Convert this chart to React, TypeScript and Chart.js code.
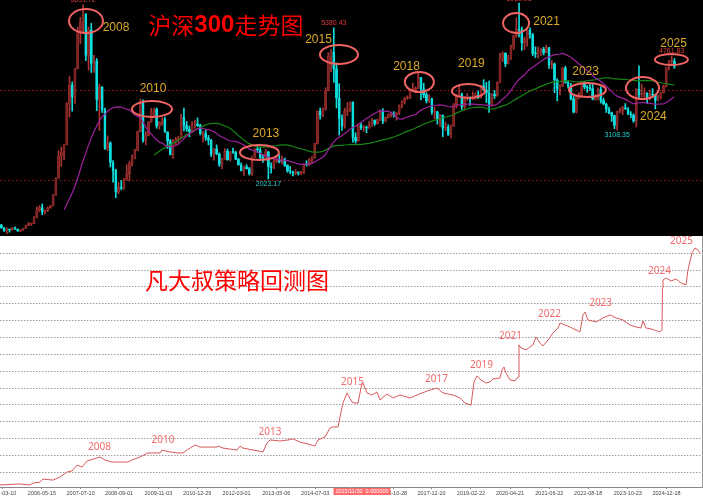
import React, { useEffect, useRef } from 'react';
import { Chart, registerables } from 'chart.js';

Chart.register(...registerables);

const W = 703;
const TOP_H = 236;
const BOTTOM_H = 264;

// ---------- Top panel: CSI 300 monthly candles, [open, high, low, close] ----------
const k2005 = [[1003,1016,925,942],[942,945,855,868],[868,935,807,899],[899,905,840,891],[891,950,885,924],[924,960,900,911],[911,915,855,867],[867,895,848,885],[885,926,880,923]];
const k2006 = [[923,1000,921,994],[994,1060,985,1020],[1020,1045,990,1032],[1032,1185,1030,1170],[1170,1400,1160,1343],[1343,1432,1290,1389],[1389,1470,1230,1298],[1298,1330,1240,1318],[1318,1400,1300,1384],[1384,1440,1370,1428],[1428,1680,1425,1672],[1672,2050,1660,2041]];
const k2007 = [[2041,2650,2040,2534],[2534,2730,2300,2613],[2613,2800,2450,2782],[2782,3720,2780,3710],[3710,4300,3400,4110],[4110,4180,3530,3840],[3840,4480,3700,4472],[4472,5400,4470,5290],[5290,5620,5030,5510],[5510,5891.72,5250,5688],[5688,5700,4650,4770],[4770,5400,4440,5338]];
const k2008 = [[5338,5480,4390,4590],[4590,4770,4390,4650],[4650,4700,3540,3790],[3790,4130,3100,4060],[4060,4080,3500,3560],[3560,3600,2680,2700],[2700,2980,2650,2820],[2820,2850,2290,2390],[2390,2430,1950,2210],[2210,2240,1606,1730],[1730,1950,1700,1840],[1840,1990,1780,1817]];
const k2009 = [[1817,2030,1790,2000],[2000,2340,1990,2140],[2140,2420,1980,2365],[2365,2560,2310,2485],[2485,2680,2470,2660],[2660,3090,2650,3075],[3075,3803,3070,3710],[3710,3780,2840,2880],[2880,3080,2780,2990],[2990,3300,2980,3290],[3290,3590,3280,3520],[3520,3600,3380,3576]];
const k2010 = [[3576,3600,3150,3204],[3204,3300,3130,3281],[3281,3390,3220,3346],[3346,3400,3060,3068],[3068,3070,2700,2870],[2870,2900,2560,2564],[2564,2900,2480,2868],[2868,2950,2780,2903],[2903,2970,2820,2936],[2936,3460,2930,3394],[3394,3600,3090,3211],[3211,3300,3080,3128]];
const k2011 = [[3128,3200,2960,3077],[3077,3300,3050,3240],[3240,3330,3150,3250],[3250,3380,3190,3208],[3208,3240,3000,3035],[3035,3080,2840,3044],[3044,3130,2880,2930],[2930,2990,2780,2889],[2889,2900,2520,2570],[2570,2700,2440,2695],[2695,2780,2560,2584],[2584,2600,2300,2346]];
const k2012 = [[2346,2480,2250,2464],[2464,2700,2460,2635],[2635,2690,2440,2454],[2454,2630,2420,2626],[2626,2710,2590,2613],[2613,2640,2450,2461],[2461,2480,2330,2333],[2333,2380,2200,2205],[2205,2310,2100,2293],[2293,2340,2240,2254],[2254,2280,2110,2139],[2139,2530,2100,2523]];
const k2013 = [[2523,2700,2500,2686],[2686,2790,2610,2673],[2673,2720,2480,2495],[2495,2560,2390,2468],[2468,2680,2460,2625],[2625,2640,2023.17,2300],[2300,2380,2150,2274],[2274,2450,2250,2412],[2412,2550,2380,2439],[2439,2560,2380,2409],[2409,2530,2350,2473],[2473,2490,2300,2330]];
const k2014 = [[2330,2340,2170,2203],[2203,2300,2140,2178],[2178,2200,2090,2146],[2146,2230,2120,2160],[2160,2180,2110,2157],[2157,2200,2120,2165],[2165,2360,2140,2350],[2350,2430,2310,2338],[2338,2480,2320,2450],[2450,2520,2380,2508],[2508,2820,2480,2808],[2808,3540,2800,3533]];
const k2015 = [[3533,3600,3350,3434],[3434,3600,3400,3572],[3572,4050,3550,3986],[3986,4830,3980,4749],[4749,4900,4400,4841],[4841,5380.43,4170,4473],[4473,4600,3600,3816],[3816,4140,3000,3367],[3367,3450,3100,3203],[3203,3600,3150,3534],[3534,3720,3430,3566],[3566,3740,3520,3731]];
const k2016 = [[3731,3740,2840,2946],[2946,3050,2820,2877],[2877,3240,2860,3218],[3218,3270,3120,3156],[3156,3210,3080,3169],[3169,3200,3050,3154],[3154,3300,3150,3203],[3203,3370,3190,3327],[3327,3340,3210,3253],[3253,3360,3240,3336],[3336,3560,3320,3538],[3538,3590,3250,3310]];
const k2017 = [[3310,3400,3290,3387],[3387,3470,3380,3452],[3452,3500,3400,3456],[3456,3520,3400,3439],[3439,3500,3330,3492],[3492,3670,3450,3666],[3666,3760,3600,3737],[3737,3840,3690,3822],[3822,3870,3790,3837],[3837,4020,3810,4006],[4006,4150,3990,4006],[4006,4070,3940,4031]];
const k2018 = [[4031,4403,4030,4275],[4275,4280,3780,4023],[4023,4150,3830,3898],[3898,3940,3710,3756],[3756,3900,3720,3802],[3802,3820,3460,3510],[3510,3620,3360,3517],[3517,3530,3240,3334],[3334,3460,3190,3438],[3438,3450,2960,3153],[3153,3290,3090,3172],[3172,3230,2990,3011]];
const k2019 = [[3011,3220,2935,3202],[3202,3700,3190,3670],[3670,3900,3600,3872],[3872,4127,3860,3913],[3913,3930,3570,3630],[3630,3860,3570,3826],[3826,3920,3760,3835],[3835,3850,3660,3799],[3799,3950,3780,3814],[3814,3940,3790,3886],[3886,3980,3810,3828],[3828,4100,3820,4097]];
const k2020 = [[4097,4230,3990,4003],[4003,4170,3720,3940],[3940,4200,3500,3686],[3686,3920,3640,3912],[3912,3990,3810,3867],[3867,4180,3860,4164],[4164,4820,4160,4695],[4695,4850,4630,4817],[4817,4830,4520,4587],[4587,4770,4580,4695],[4695,5000,4680,4960],[4960,5215,4900,5211]];
const k2021 = [[5211,5610,5170,5352],[5352,5930.91,5180,5336],[5336,5400,4880,5048],[5048,5180,4900,5124],[5124,5340,4970,5331],[5331,5380,5150,5224],[5224,5260,4760,4812],[4812,4960,4720,4805],[4805,4960,4710,4866],[4866,4930,4760,4908],[4908,4950,4780,4832],[4832,5000,4820,4940]];
const k2022 = [[4940,4950,4480,4564],[4564,4650,4470,4581],[4581,4600,3940,4223],[4223,4250,3760,4016],[4016,4120,3890,4091],[4091,4500,4070,4485],[4485,4530,4150,4170],[4170,4200,4040,4078],[4078,4150,3780,3804],[3804,3870,3490,3509],[3509,3870,3490,3854],[3854,3950,3800,3872]];
const k2023 = [[3872,4160,3860,4157],[4157,4190,4020,4061],[4061,4100,3950,4051],[4051,4140,3990,4030],[4030,4130,3780,3798],[3798,3900,3770,3842],[3842,4050,3780,4014],[4014,4070,3710,3765],[3765,3820,3670,3690],[3690,3710,3500,3573],[3573,3620,3470,3496],[3496,3510,3300,3431]];
const k2024 = [[3431,3440,3140,3215],[3215,3530,3108.35,3516],[3516,3600,3490,3537],[3537,3640,3450,3604],[3604,3700,3570,3579],[3579,3610,3450,3462],[3462,3520,3380,3442],[3442,3470,3280,3321],[3321,4030,3180,4017],[4017,4540,3830,3891],[3891,4130,3840,3916],[3916,4050,3840,3935]];
const k2025 = [[3935,3940,3700,3817],[3817,4000,3780,3890],[3890,4030,3860,3887],[3887,3900,3580,3770],[3770,3890,3760,3840],[3840,3950,3800,3936],[3936,4110,3930,4075],[4075,4500,4070,4496],[4496,4660,4440,4640],[4640,4761.83,4560,4641],[4641,4700,4480,4526]];

const candleYears = [2005,2006,2007,2008,2009,2010,2011,2012,2013,2014,2015,2016,2017,2018,2019,2020,2021,2022,2023,2024,2025];
const candleTable = [k2005,k2006,k2007,k2008,k2009,k2010,k2011,k2012,k2013,k2014,k2015,k2016,k2017,k2018,k2019,k2020,k2021,k2022,k2023,k2024,k2025];
const firstMonthOf2005 = 4;
const emptySlotsAtEnd = 10;

const maShortPeriod = 24;
const maLongPeriod = 57;
const refLevels = [2000, 4000];
const topYMin = 756;
const topYMax = 6000;

// labelled extremes on the candle chart
const extremeMarks = [
  { month: '2007-10', text: '5891.72', side: 'high' },
  { month: '2015-06', text: '5380.43', side: 'high' },
  { month: '2021-02', text: '5930.91', side: 'high' },
  { month: '2025-10', text: '4761.83', side: 'high' },
  { month: '2013-06', text: '2023.17', side: 'low' },
  { month: '2024-02', text: '3108.35', side: 'low' },
];

// ring annotations (category index, index value)
const ringYears = ['2008','2010','2013','2015','2018','2019','2021','2023','2024','2025'];
const ringIdx = [31.06, 55.28, 94.7, 123.9, 153.4, 171.4, 188.9, 215.1, 235.3, 245.9];
const ringVal = [5533, 3578, 2611, 4789, 4178, 3978, 5489, 4000, 4044, 4678];
const ringRx = [17, 20, 19.5, 19, 14.5, 16.5, 13, 18.5, 16.5, 16.5];
const ringRy = [12, 8, 7.5, 9.5, 10, 7, 10, 7, 11, 5.5];
const yearLabelIdx = [42.07, 55.65, 97.1, 116.4, 148.7, 172.5, 200.1, 214.4, 239.3, 246.7];
const yearLabelVal = [5378, 4033, 3022, 5122, 4511, 4578, 5511, 4400, 3400, 5022];
const topTitleParts = ['沪深', '300', '走势图'];
const topTitleAnchor = { idx: 82.4, value: 5444 };

// ---------- Bottom panel: strategy back-test curve ----------
const curveYears = [2005.125,2005.72,2006.018,2006.107,2006.315,2006.405,2006.702,2006.911,2007.119,2007.268,2007.417,2007.565,2007.714,2008.101,2008.25,2008.458,2008.935,2009.054,2009.292,2009.53,2009.887,2009.946,2010.185,2010.393,2010.571,2010.78,2010.929,2011.077,2011.583,2011.613,2011.762,2012.179,2012.268,2012.357,2012.952,2013.071,2013.161,2013.458,2013.696,2013.845,2014.054,2014.5,2014.589,2014.798,2014.946,2015.036,2015.185,2015.244,2015.333,2015.452,2015.601,2015.69,2015.78,2015.899,2015.929,2016.048,2016.196,2016.345,2016.435,2016.643,2016.821,2017.03,2017.327,2017.536,2017.685,2017.923,2018.131,2018.31,2018.607,2018.815,2018.964,2019.143,2019.232,2019.321,2019.44,2019.589,2019.708,2019.798,2020.006,2020.065,2020.125,2020.185,2020.304,2020.452,2020.542,2020.571,2020.631,2020.78,2020.899,2020.988,2021.077,2021.196,2021.286,2021.435,2021.583,2021.732,2021.792,2022.089,2022.387,2022.476,2022.536,2022.625,2022.863,2023.071,2023.28,2023.458,2023.667,2023.875,2024.054,2024.202,2024.262,2024.351,2024.5,2024.768,2024.827,2024.842,2024.857,2024.946,2025.095,2025.244,2025.393,2025.542,2025.601,2025.72,2025.81,2025.899,2025.958];
const curveValues = [0.25,0.31,0.25,0.36,0.42,0.60,0.54,0.72,1.02,1.08,1.43,1.31,1.67,1.91,1.73,1.61,1.61,1.73,1.91,2.15,2.15,2.32,2.21,2.15,2.15,2.44,2.62,2.50,2.50,2.56,2.44,2.32,2.56,2.44,2.21,2.74,2.92,2.86,2.92,2.98,2.80,2.56,2.92,3.10,3.63,3.69,3.69,4.28,5.11,5.71,5.17,5.11,5.11,6.30,6.30,5.71,5.59,5.77,5.29,5.65,5.41,5.59,5.41,5.59,5.71,5.88,6.00,5.71,5.59,5.41,5.11,4.99,6.36,6.72,6.48,6.30,6.36,6.54,6.60,7.07,7.25,6.89,6.48,6.42,6.66,8.56,8.38,8.26,8.44,8.56,9.03,8.67,8.50,8.85,9.27,9.56,9.86,9.62,9.33,10.34,10.51,10.04,9.92,10.16,10.34,10.16,10.04,9.74,9.62,9.56,9.98,9.56,9.51,9.33,9.45,11.94,12.41,12.53,12.35,12.47,12.23,12.12,13.01,14.02,14.31,14.19,14.02];

const dateTicks = ['2005-03-10','2006-05-15','2007-07-10','2008-09-01','2009-11-03','2010-12-29','2012-03-01','2013-05-06','2014-07-03','2015-08-28','2016-10-28','2017-12-20','2019-02-22','2020-04-21','2021-06-22','2022-08-18','2023-10-23','2024-12-18'];
const gridLevels = [1,2,3,4,5,6,7,8,9,10,11,12,13,14];
const bottomXMin = 2005.125;
const bottomXMax = 2026.018;
const bottomYMin = 0.13;
const bottomYMax = 15.02;

const curveYearLabels = ['2008','2010','2013','2015','2017','2019','2021','2022','2023','2024','2025'];
const curveLabelYear = [2008.086, 2009.976, 2013.161, 2015.616, 2018.116, 2019.455, 2020.319, 2021.479, 2023.0, 2024.753, 2025.408];
const curveLabelVal = [2.47, 2.92, 3.39, 6.36, 6.54, 7.37, 9.09, 10.39, 11.05, 12.95, 14.74];
const bottomTitle = '凡大叔策略回测图';
const bottomTitleAnchor = { year: 2012.179, value: 12.41 };
const cursorLabel = { year: 2015.899, text: '2015/11/30  0.000000' };

// ---------- derived tables ----------
const candles: number[][] = [];
const monthLabels: string[] = [];
candleTable.forEach((arr, yi) => {
  const y = candleYears[yi];
  const start = y === 2005 ? firstMonthOf2005 : 1;
  arr.forEach((c, i) => {
    candles.push(c);
    monthLabels.push(`${y}-${String(start + i).padStart(2, '0')}`);
  });
});
for (let i = 0; i < emptySlotsAtEnd; i++) monthLabels.push('');

const closes = candles.map((c) => c[3]);
function movingAverage(src: number[], n: number) {
  const out: (number | null)[] = [];
  for (let i = 0; i < src.length; i++) {
    if (i < n - 1) { out.push(null); continue; }
    let s = 0;
    for (let j = i - n + 1; j <= i; j++) s += src[j];
    out.push(s / n);
  }
  return out;
}

function dateToYear(d: string) {
  const [y, m, dd] = d.split('-').map(Number);
  return y + (m - 1) / 12 + (dd - 1) / 365;
}

const RISE_BODY = '#7e2222';
const RISE_WICK = '#a83434';
const FALL = '#10dede';

const topDecor = {
  id: 'topDecor',
  beforeDatasetsDraw(chart: any) {
    const { ctx, chartArea, scales } = chart;
    ctx.save();
    ctx.strokeStyle = '#a41a1a';
    ctx.lineWidth = 1;
    ctx.setLineDash([1.5, 2.5]);
    refLevels.forEach((v) => {
      const y = Math.round(scales.y.getPixelForValue(v)) + 0.5;
      ctx.beginPath();
      ctx.moveTo(chartArea.left, y);
      ctx.lineTo(chartArea.right, y);
      ctx.stroke();
    });
    ctx.restore();
  },
  afterDatasetsDraw(chart: any) {
    const { ctx, scales } = chart;
    const x = scales.x, y = scales.y;
    ctx.save();
    // rings
    ctx.strokeStyle = '#f26464';
    ctx.lineWidth = 2;
    ringYears.forEach((_, i) => {
      ctx.beginPath();
      ctx.ellipse(x.getPixelForValue(ringIdx[i]), y.getPixelForValue(ringVal[i]), ringRx[i], ringRy[i], 0, 0, Math.PI * 2);
      ctx.stroke();
    });
    // year labels
    ctx.fillStyle = '#dcaa28';
    ctx.font = '12px "Liberation Sans", Arial, sans-serif';
    ctx.textAlign = 'center';
    ctx.textBaseline = 'middle';
    ringYears.forEach((t, i) => {
      ctx.fillText(t, x.getPixelForValue(yearLabelIdx[i]), y.getPixelForValue(yearLabelVal[i]));
    });
    // extreme values
    ctx.font = '7px "Liberation Sans", Arial, sans-serif';
    extremeMarks.forEach((m) => {
      const i = monthLabels.indexOf(m.month);
      if (i < 0) return;
      const c = candles[i];
      const px = x.getPixelForValue(i);
      if (m.side === 'high') {
        ctx.fillStyle = '#e03a3a';
        ctx.textBaseline = 'bottom';
        ctx.fillText(m.text, px, y.getPixelForValue(c[1]) - 1);
      } else {
        ctx.fillStyle = '#20d0d0';
        ctx.textBaseline = 'top';
        ctx.fillText(m.text, px, y.getPixelForValue(c[2]) + 1.5);
      }
    });
    // title
    const fonts = ['23px "Noto Sans CJK SC", sans-serif', 'bold 24px "Liberation Sans", Arial, sans-serif', '23px "Noto Sans CJK SC", sans-serif'];
    let total = 0;
    const widths = topTitleParts.map((p, i) => { ctx.font = fonts[i]; const w = ctx.measureText(p).width; total += w; return w; });
    let cx = x.getPixelForValue(topTitleAnchor.idx) - total / 2;
    const cy = y.getPixelForValue(topTitleAnchor.value);
    ctx.fillStyle = '#ff0000';
    ctx.textAlign = 'left';
    ctx.textBaseline = 'middle';
    topTitleParts.forEach((p, i) => { ctx.font = fonts[i]; ctx.fillText(p, cx, cy); cx += widths[i]; });
    ctx.restore();
  },
};

const bottomDecor = {
  id: 'bottomDecor',
  afterDatasetsDraw(chart: any) {
    const { ctx, scales } = chart;
    const x = scales.x, y = scales.y;
    ctx.save();
    ctx.fillStyle = '#f36a6a';
    ctx.font = '10px "Noto Sans", sans-serif';
    ctx.textAlign = 'center';
    ctx.textBaseline = 'middle';
    curveYearLabels.forEach((t, i) => {
      ctx.fillText(t, x.getPixelForValue(curveLabelYear[i]), y.getPixelForValue(curveLabelVal[i]));
    });
    ctx.fillStyle = '#ff0000';
    ctx.font = '23px "Noto Sans CJK SC", sans-serif';
    ctx.fillText(bottomTitle, x.getPixelForValue(bottomTitleAnchor.year), y.getPixelForValue(bottomTitleAnchor.value));
    ctx.restore();
  },
  afterDraw(chart: any) {
    const { ctx, scales, chartArea } = chart;
    ctx.save();
    ctx.font = '5.5px "Liberation Sans", Arial, sans-serif';
    const tw = ctx.measureText(cursorLabel.text).width + 4;
    const cx = scales.x.getPixelForValue(cursorLabel.year);
    const top = chartArea.bottom + 1;
    ctx.fillStyle = '#ff6a6a';
    ctx.fillRect(cx - tw / 2, top, tw, 7);
    ctx.fillStyle = '#ffffff';
    ctx.textAlign = 'center';
    ctx.textBaseline = 'middle';
    ctx.fillText(cursorLabel.text, cx, top + 3.7);
    ctx.restore();
  },
};

export default function App() {
  const topRef = useRef<HTMLCanvasElement>(null);
  const bottomRef = useRef<HTMLCanvasElement>(null);

  useEffect(() => {
    document.body.style.margin = '0';
    const bodies = monthLabels.map((_, i) => {
      const c = candles[i];
      return c ? [Math.min(c[0], c[3]), Math.max(c[0], c[3])] : null;
    });
    const wicks = monthLabels.map((_, i) => {
      const c = candles[i];
      return c ? [c[2], c[1]] : null;
    });
    const bodyColors = monthLabels.map((_, i) => {
      const c = candles[i];
      return c && c[3] >= c[0] ? RISE_BODY : FALL;
    });
    const bodyBorders = monthLabels.map((_, i) => {
      const c = candles[i];
      return c && c[3] >= c[0] ? RISE_WICK : FALL;
    });
    const wickColors = bodyBorders;
    const maShort = movingAverage(closes, maShortPeriod);
    const maLong = movingAverage(closes, maLongPeriod);

    const top = new Chart(topRef.current as HTMLCanvasElement, {
      type: 'bar',
      data: {
        labels: monthLabels,
        datasets: [
          { type: 'line', label: `MA${maShortPeriod}`, data: maShort, borderColor: '#a020a0', borderWidth: 1.2, pointRadius: 0, order: 0 } as any,
          { type: 'line', label: `MA${maLongPeriod}`, data: maLong, borderColor: '#178417', borderWidth: 1.2, pointRadius: 0, order: 0 } as any,
          { type: 'bar', label: 'body', data: bodies, backgroundColor: bodyColors, borderColor: bodyBorders, borderWidth: 0.5, borderSkipped: false, barThickness: 2.2, grouped: false, minBarLength: 1, order: 1 } as any,
          { type: 'bar', label: 'wick', data: wicks, backgroundColor: wickColors, barThickness: 1, grouped: false, order: 2 } as any,
        ],
      },
      options: {
        responsive: false,
        animation: false,
        layout: { padding: 0 },
        plugins: { legend: { display: false }, tooltip: { enabled: false } },
        scales: {
          x: { display: false, offset: true },
          y: { display: false, min: topYMin, max: topYMax },
        },
      },
      plugins: [topDecor],
    });

    const bottom = new Chart(bottomRef.current as HTMLCanvasElement, {
      type: 'line',
      data: {
        datasets: [
          {
            label: 'backtest',
            data: curveYears.map((yr, i) => ({ x: yr, y: curveValues[i] })),
            borderColor: '#d85a5a',
            borderWidth: 1,
            pointRadius: 0,
            tension: 0,
          },
        ],
      },
      options: {
        responsive: false,
        animation: false,
        layout: { padding: { left: 0, right: 1, top: 0, bottom: 0 } },
        plugins: { legend: { display: false }, tooltip: { enabled: false } },
        scales: {
          x: {
            type: 'linear',
            min: bottomXMin,
            max: bottomXMax,
            afterBuildTicks: (s: any) => { s.ticks = dateTicks.map((d) => ({ value: dateToYear(d) })); },
            afterFit: (s: any) => { s.height = 13; s.paddingLeft = 0; s.paddingRight = 0; },
            ticks: {
              autoSkip: false,
              maxRotation: 0,
              minRotation: 0,
              padding: 1,
              color: '#444',
              font: { size: 5.5, family: '"Liberation Sans", Arial, sans-serif' },
              callback: (_v: any, i: number) => dateTicks[i],
            },
            grid: { drawOnChartArea: false, drawTicks: true, tickLength: 2, color: '#888' },
            border: { display: true, color: '#8a8a8a', width: 1 },
          },
          y: {
            position: 'right',
            min: bottomYMin,
            max: bottomYMax,
            afterBuildTicks: (s: any) => { s.ticks = gridLevels.map((v) => ({ value: v })); },
            afterFit: (s: any) => { s.width = 0; s.paddingTop = 0; s.paddingBottom = 0; },
            ticks: { display: false },
            grid: { color: '#9c9c9c', lineWidth: 1, drawTicks: false },
            border: { display: true, color: '#9a9a9a', width: 1, dash: [1.5, 1.5] },
          },
        },
      },
      plugins: [bottomDecor],
    });

    return () => {
      top.destroy();
      bottom.destroy();
    };
  }, []);

  return (
    <div style={{ width: W, margin: 0, padding: 0 }}>
      <canvas ref={topRef} width={W} height={TOP_H} style={{ display: 'block', width: W, height: TOP_H, background: '#000' }} />
      <canvas ref={bottomRef} width={W} height={BOTTOM_H} style={{ display: 'block', width: W, height: BOTTOM_H, background: '#fff' }} />
    </div>
  );
}
